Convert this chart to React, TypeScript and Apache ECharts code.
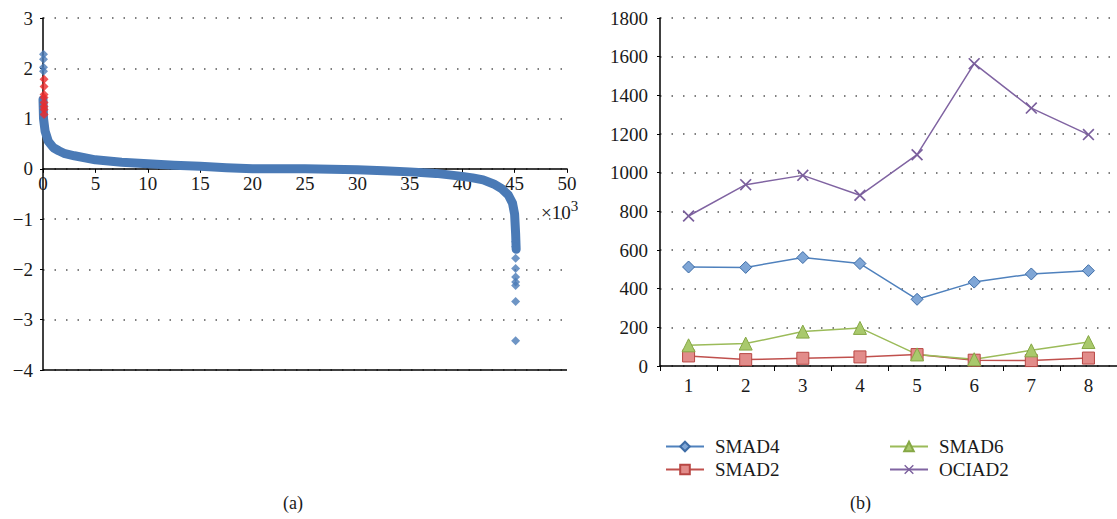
import React, { useEffect, useRef } from "react";
import * as echarts from "echarts";

// ---- Panel (a): sorted values (x in thousands) ----
const curveX = [0, 0.05, 0.2, 0.5, 1, 1.5, 2, 3, 5, 7.5, 10, 12.5, 15, 17.5, 20, 22.5, 25, 27.5, 30, 32.5, 35, 37.5, 40, 41, 42, 43, 43.8, 44.4, 44.8, 45, 45.1, 45.15];
const curveY = [1.38, 1.0, 0.75, 0.55, 0.42, 0.36, 0.31, 0.26, 0.18, 0.13, 0.1, 0.07, 0.05, 0.02, 0.0, 0.0, 0.0, -0.01, -0.02, -0.04, -0.06, -0.09, -0.15, -0.18, -0.22, -0.3, -0.4, -0.52, -0.68, -0.9, -1.3, -1.6];
const topBlueX = [0.05, 0.05, 0.05, 0.05];
const topBlueY = [2.28, 2.18, 2.02, 1.94];
const topRedX = [0.1, 0.1, 0.1, 0.1, 0.1, 0.1, 0.1, 0.1];
const topRedY = [1.78, 1.64, 1.48, 1.42, 1.32, 1.24, 1.18, 1.08];
const bottomBlueX = [45.1, 45.1, 45.1, 45.1, 45.1, 45.1, 45.1, 45.1, 45.1];
const bottomBlueY = [-1.45, -1.55, -1.78, -1.98, -2.15, -2.25, -2.32, -2.64, -3.42];
const panelAMin = -4;
const panelAMax = 3;

// ---- Panel (b) ----
const categories = ["1", "2", "3", "4", "5", "6", "7", "8"];
const smad4 = [512, 510, 561, 530, 345, 434, 476, 493];
const smad2 = [52, 33, 40, 47, 59, 30, 28, 41];
const smad6 = [107, 116, 178, 197, 60, 35, 81, 124];
const ociad2 = [776, 938, 986, 883, 1093, 1564, 1334, 1197];

const FONT = "Liberation Serif";
const TXT = "#1a1a1a";
const X_SYMBOL = "path://M1,0 L5,4 L9,0 L10,1 L6,5 L10,9 L9,10 L5,6 L1,10 L0,9 L4,5 L0,1 Z";

const zip = (xs: number[], ys: number[]) => xs.map((x, i) => [x, ys[i]]);

export default function App() {
  const ref = useRef<HTMLDivElement>(null);
  useEffect(() => {
    if (!ref.current) return;
    const chart = echarts.init(ref.current, undefined, { renderer: "svg" });
    const dotted = { show: true, lineStyle: { color: "#555", width: 1.5, type: [1.5, 10] } };
    const blue = "#4a7ab6";
    const gridATop = 18;
    const gridABottom = 149;
    const gridAH = 519 - gridATop - gridABottom;
    // move the x axis (line, ticks, labels) up to the value 0
    const zeroOffset = -(gridAH * (0 - panelAMin)) / (panelAMax - panelAMin);
    chart.setOption({
      animation: false,
      backgroundColor: "#fff",
      textStyle: { fontFamily: FONT, color: TXT },
      grid: [
        { left: 43, top: gridATop, right: 550, bottom: gridABottom },
        { left: 660, top: 18, right: 0, bottom: 153 },
      ],
      xAxis: [
        {
          type: "value", gridIndex: 0, min: 0, max: 50, interval: 5, position: "bottom",
          offset: zeroOffset,
          axisLine: { onZero: false, lineStyle: { color: "#000", width: 1.5 } },
          axisTick: { show: true, length: 4, lineStyle: { color: "#000" } },
          axisLabel: { fontFamily: FONT, fontSize: 19, color: TXT, margin: 5 },
          splitLine: { show: false },
        },
        {
          type: "category", gridIndex: 1, data: categories, boundaryGap: true,
          axisLine: { lineStyle: { color: "#000", width: 1.5 } },
          axisTick: { show: true, length: 5, lineStyle: { color: "#000" } },
          axisLabel: { fontFamily: FONT, fontSize: 19, color: TXT, margin: 10 },
          splitLine: { show: false },
        },
      ],
      yAxis: [
        {
          type: "value", gridIndex: 0, min: panelAMin, max: panelAMax, interval: 1,
          axisLine: { show: true, onZero: false, lineStyle: { color: "#000", width: 1.5 } },
          axisTick: { show: true, length: 3, lineStyle: { color: "#000" } },
          axisLabel: {
            fontFamily: FONT, fontSize: 19, color: TXT, margin: 10,
            formatter: (v: number) => String(v).replace("-", "\u2212"),
          },
          splitLine: dotted,
        },
        {
          type: "value", gridIndex: 1, min: 0, max: 1800, interval: 200,
          axisLine: { show: true, lineStyle: { color: "#000", width: 1.5 } },
          axisTick: { show: true, length: 3, lineStyle: { color: "#000" } },
          axisLabel: { fontFamily: FONT, fontSize: 19, color: TXT, margin: 12, formatter: (v: number) => String(v) },
          splitLine: dotted,
        },
      ],
      legend: [
        {
          data: ["SMAD4", "SMAD2"], orient: "vertical", left: 660, top: 432,
          itemWidth: 38, itemHeight: 12, itemGap: 4,
          textStyle: { fontFamily: FONT, fontSize: 19, color: TXT, padding: [0, 0, 0, 6] },
        },
        {
          data: ["SMAD6", "OCIAD2"], orient: "vertical", left: 884, top: 432,
          itemWidth: 38, itemHeight: 12, itemGap: 4,
          textStyle: { fontFamily: FONT, fontSize: 19, color: TXT, padding: [0, 0, 0, 6] },
        },
      ],
      graphic: [
        {
          type: "text", left: 541, top: 198,
          style: {
            text: "{b|\u00d710}{s|3}",
            rich: {
              b: { fontFamily: FONT, fontSize: 19, fill: TXT, color: TXT, verticalAlign: "bottom", lineHeight: 24 },
              s: { fontFamily: FONT, fontSize: 15, fill: TXT, color: TXT, verticalAlign: "top", lineHeight: 24 },
            },
          },
        },
        { type: "text", left: 283, top: 494, style: { text: "(a)", font: `18px "${FONT}"`, fill: TXT } },
        { type: "text", left: 850, top: 494, style: { text: "(b)", font: `18px "${FONT}"`, fill: TXT } },
      ],
      series: [
        {
          type: "line", xAxisIndex: 0, yAxisIndex: 0, data: zip(curveX, curveY),
          showSymbol: false, clip: false, silent: true,
          lineStyle: { color: blue, width: 9, cap: "round", join: "round" },
          z: 1,
          markLine: {
            silent: true, symbol: "none", label: { show: false },
            lineStyle: { color: "#000", width: 1.5, type: "solid" },
            data: [{ yAxis: panelAMin }],
          },
        },
        {
          type: "scatter", xAxisIndex: 0, yAxisIndex: 0, data: zip(topBlueX, topBlueY),
          symbol: "diamond", symbolSize: 9, clip: false, itemStyle: { color: blue },
        },
        {
          type: "scatter", xAxisIndex: 0, yAxisIndex: 0, data: zip(bottomBlueX, bottomBlueY),
          symbol: "diamond", symbolSize: 9, clip: false, itemStyle: { color: blue },
        },
        {
          type: "scatter", xAxisIndex: 0, yAxisIndex: 0, data: zip(topRedX, topRedY),
          symbol: "diamond", symbolSize: 9, clip: false, itemStyle: { color: "#ee2a2a" }, z: 3,
        },
        {
          name: "SMAD4", type: "line", xAxisIndex: 1, yAxisIndex: 1, data: smad4,
          symbol: "diamond", symbolSize: 12, showAllSymbol: true,
          lineStyle: { color: "#4f81bd", width: 1.5 },
          itemStyle: { color: "#7fa6d6", borderColor: "#3d6ca6", borderWidth: 1 },
        },
        {
          name: "SMAD2", type: "line", xAxisIndex: 1, yAxisIndex: 1, data: smad2,
          symbol: "rect", symbolSize: 12,
          lineStyle: { color: "#c0504d", width: 1.5 },
          itemStyle: { color: "#e28c8a", borderColor: "#b84744", borderWidth: 1 },
        },
        {
          name: "SMAD6", type: "line", xAxisIndex: 1, yAxisIndex: 1, data: smad6,
          symbol: "triangle", symbolSize: 13,
          lineStyle: { color: "#9bbb59", width: 1.5 },
          itemStyle: { color: "#a9c96c", borderColor: "#86a846", borderWidth: 1 },
        },
        {
          name: "OCIAD2", type: "line", xAxisIndex: 1, yAxisIndex: 1, data: ociad2,
          symbol: X_SYMBOL, symbolSize: 12,
          lineStyle: { color: "#8064a2", width: 1.5 },
          itemStyle: { color: "#7a5f9c" },
        },
      ],
    });
    return () => chart.dispose();
  }, []);
  return (
    <div
      ref={ref}
      style={{ position: "fixed", left: 0, top: 0, width: 1117, height: 519, background: "#fff" }}
    />
  );
}
